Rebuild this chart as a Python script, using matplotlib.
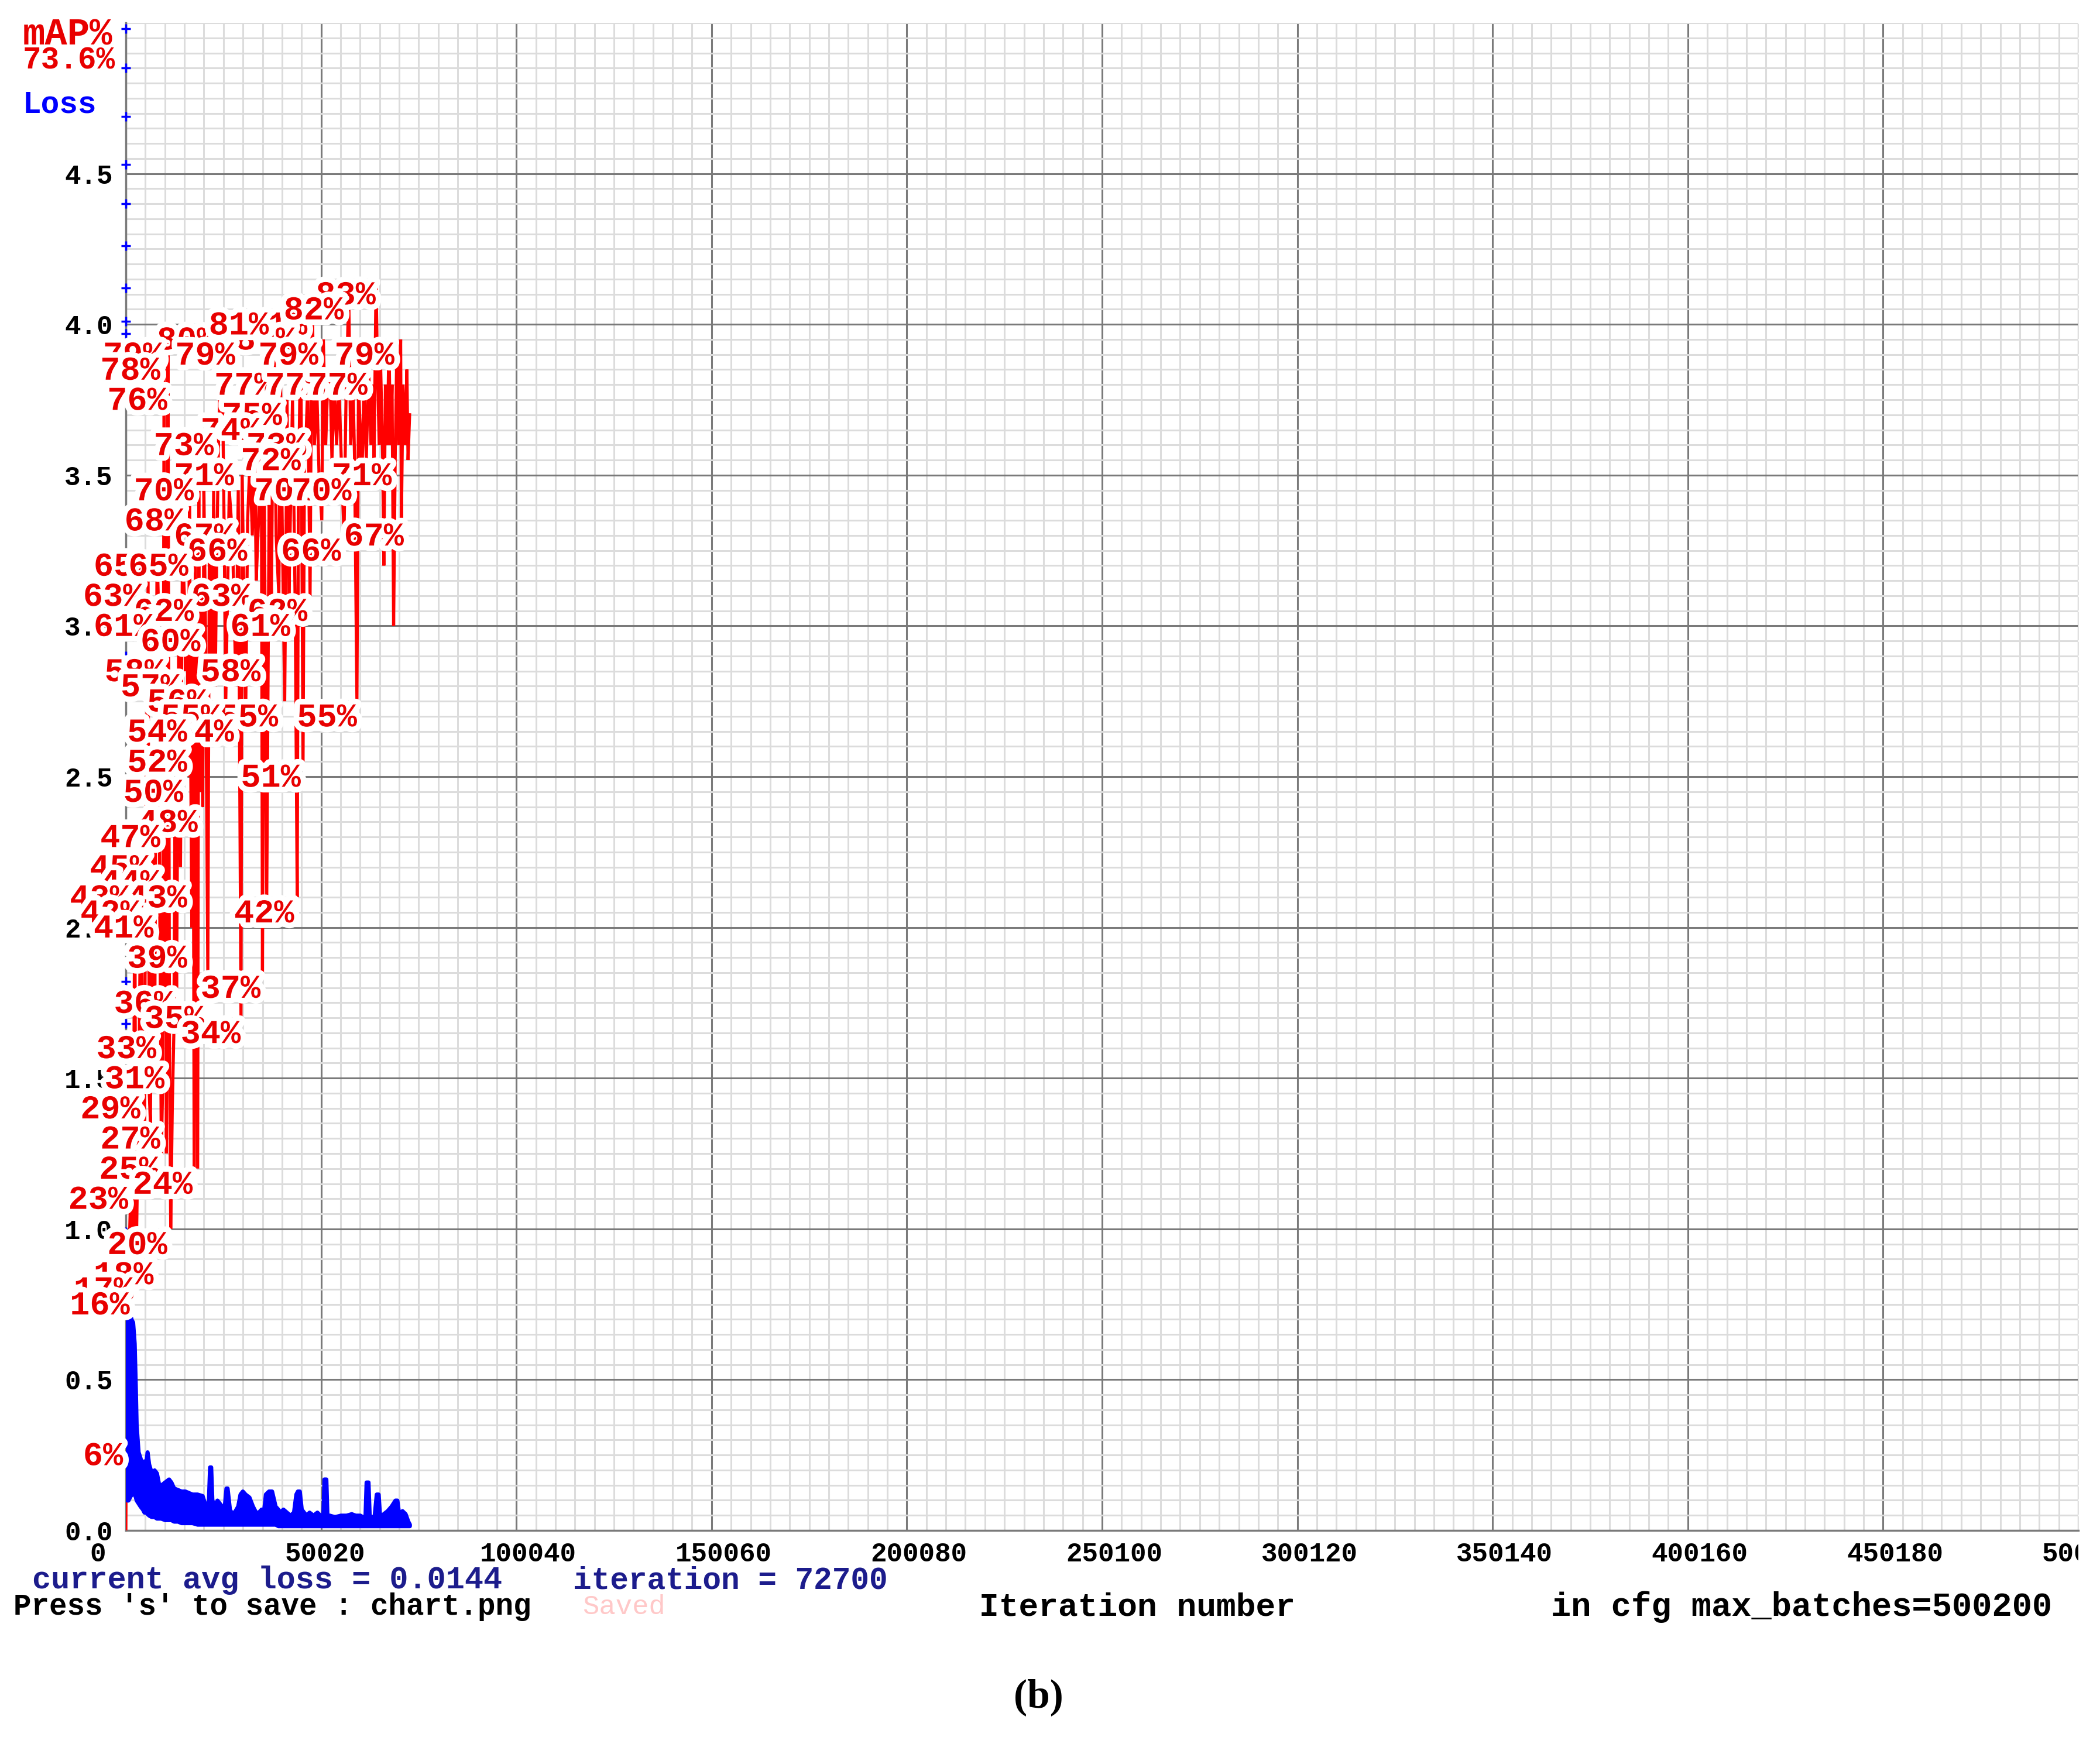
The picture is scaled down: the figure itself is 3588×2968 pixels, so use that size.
import matplotlib
matplotlib.use("Agg")
import matplotlib.pyplot as plt
import matplotlib.patheffects as pe
from matplotlib.ticker import MultipleLocator, FixedLocator
from matplotlib.transforms import ScaledTranslation, Bbox, TransformedBbox

max_batches = 500200
x_ticks = [0, 50020, 100040, 150060, 200080, 250100, 300120, 350140, 400160, 450180, 500200]
y_ticks = [0.0, 0.5, 1.0, 1.5, 2.0, 2.5, 3.0, 3.5, 4.0, 4.5]

# mAP evaluations (iteration, mAP %) -> red line
map_iter = [
    0, 200, 500, 1000, 1300, 1600, 1900, 2300, 2600, 3300,
    3800, 4500, 4800, 5000, 5700, 6000, 6300, 6800, 7400, 8000,
    8400, 8700, 9100, 9400, 9800, 10100, 10400, 10800, 11200, 11500,
    11900, 12300, 12600, 13000, 13600, 14000, 14500, 15000, 15300, 15700,
    16000, 16300, 16600, 16900, 17200, 17500, 17800, 18400, 18700, 18900,
    19300, 19700, 20000, 20400, 21000, 21400, 22100, 22500, 22900, 23300,
    23800, 24600, 25200, 25600, 26500, 27300, 28200, 28800, 29500, 29800,
    30700, 31200, 31800, 32400, 33000, 33400, 34000, 34700, 35000, 35500,
    36100, 36700, 37300, 37900, 38500, 39200, 39600, 40100, 40700, 41300,
    41800, 42200, 42700, 43400, 43900, 44200, 44800, 45400, 45800, 46100,
    46600, 47200, 47500, 47800, 48300, 48900, 49500, 50200, 50600, 51200,
    51700, 52300, 52800, 53400, 54000, 54600, 55200, 55900, 56400, 57100,
    57600, 58200, 58600, 59200, 59600, 60200, 60500, 61000, 61600, 62200,
    62800, 63200, 63600, 64100, 64400, 64900, 65300, 65800, 66100, 66500,
    67000, 67400, 67800, 68200, 68600, 69000, 69400, 69900, 70400, 70600,
    71000, 71600, 72000, 72300, 72700]
map_val = [
    0, 11, 6, 20, 23, 16, 23, 43, 17, 29,
    42, 29, 27, 42, 63, 29, 27, 45, 33, 65,
    61, 41, 25, 29, 77, 47, 25, 79, 31, 20,
    28, 33, 48, 36, 62, 44, 65, 62, 57, 62,
    50, 68, 52, 40, 61, 24, 65, 24, 70, 49,
    62, 48, 69, 60, 37, 66, 56, 69, 56, 65,
    73, 80, 66, 55, 69, 66, 56, 69, 34, 70,
    54, 67, 71, 66, 72, 63, 67, 74, 37, 68,
    42, 68, 62, 81, 66, 62, 77, 66, 55, 75,
    62, 68, 75, 61, 42, 68, 80, 51, 73, 72,
    76, 62, 75, 81, 72, 76, 70, 67, 79, 72,
    76, 77, 71, 76, 72, 76, 71, 66, 75, 82,
    72, 76, 71, 55, 76, 72, 70, 76, 71, 77,
    72, 76, 71, 83, 78, 72, 77, 71, 64, 76,
    72, 79, 72, 76, 60, 71, 78, 72, 79, 67,
    76, 72, 77, 71, 74]

# mAP text labels (iteration, mAP %)
label_iter = [
    65300, 47800, 57100, 24600, 44800, 37900, 10800, 29300, 50600, 70100,
    10100, 39300, 52300, 63200, 11900, 41300, 35800, 47500, 23800, 46100,
    29000, 69400, 49500, 59100, 18700, 16300, 29000, 72500, 32400, 56400,
    8400, 17300, 33400, 5700, 18700, 47800, 8400, 43400, 20400, 11200,
    35800, 15300, 22100, 40300, 60500, 25600, 29000, 17000, 17000, 46100,
    16000, 19700, 10100, 7400, 10100, 17000, 2300, 5000, 44400, 8400,
    17000, 35800, 13600, 21400, 30700, 9100, 11200, 5000, 10100, 9800,
    18400, 1900, 11900, 8400, 3300, 2300, 5700]
label_val = [
    83, 81, 82, 80, 80, 81, 79, 79, 79, 79,
    78, 77, 77, 77, 76, 75, 74, 73, 73, 72,
    71, 71, 70, 70, 70, 68, 67, 67, 66, 66,
    65, 65, 63, 63, 62, 62, 61, 61, 60, 58,
    58, 57, 56, 55, 55, 55, 54, 54, 52, 51,
    50, 48, 47, 45, 44, 43, 43, 42, 42, 41,
    39, 37, 36, 35, 34, 33, 31, 29, 27, 25,
    24, 23, 20, 18, 17, 16, 6]

# avg loss band (blue)
loss_iter = [
    300, 600, 1000, 1400, 1800, 2200, 2500, 2700, 3200, 3700,
    4300, 4700, 5100, 5500, 5900, 6600, 7300, 7900, 8500, 9000,
    10000, 11000, 11600, 12300, 13300, 14200, 15200, 16100, 17000, 18300,
    19600, 20700, 21200, 21500, 21800, 22100, 22500, 22900, 23400, 24000,
    25200, 25700, 26000, 26600, 27000, 27800, 28700, 29300, 29900, 30600,
    31600, 32500, 33300, 34000, 34700, 35300, 35800, 36600, 37400, 38300,
    39000, 39500, 40300, 41200, 42100, 43000, 43600, 44000, 44500, 45000,
    45600, 46200, 47000, 48000, 49000, 49800, 50500, 50800, 51300, 51600,
    52200, 53500, 55000, 56500, 57800, 58800, 60000, 61300, 61600, 62100,
    62400, 63600, 64200, 64700, 65100, 66000, 67000, 68000, 69000, 69500,
    70100, 70800, 71600, 72300, 72700]
loss_hi = [
    0.72, 0.73, 0.72, 0.70, 0.69, 0.62, 0.47, 0.35, 0.26, 0.24,
    0.21, 0.23, 0.22, 0.26, 0.22, 0.19, 0.20, 0.19, 0.15, 0.15,
    0.16, 0.17, 0.16, 0.14, 0.135, 0.13, 0.13, 0.125, 0.12, 0.12,
    0.115, 0.07, 0.10, 0.21, 0.21, 0.10, 0.09, 0.08, 0.10, 0.09,
    0.07, 0.14, 0.14, 0.07, 0.06, 0.06, 0.08, 0.12, 0.13, 0.12,
    0.11, 0.08, 0.06, 0.06, 0.07, 0.06, 0.12, 0.13, 0.13, 0.08,
    0.07, 0.06, 0.07, 0.06, 0.05, 0.06, 0.12, 0.13, 0.13, 0.07,
    0.06, 0.05, 0.06, 0.05, 0.06, 0.05, 0.04, 0.17, 0.17, 0.04,
    0.05, 0.045, 0.05, 0.05, 0.055, 0.05, 0.05, 0.04, 0.16, 0.16,
    0.05, 0.04, 0.12, 0.12, 0.04, 0.055, 0.065, 0.08, 0.10, 0.10,
    0.04, 0.065, 0.055, 0.03, 0.02]
loss_lo = [
    0.10, 0.10, 0.11, 0.12, 0.12, 0.12, 0.11, 0.10, 0.09, 0.08,
    0.07, 0.06, 0.06, 0.055, 0.05, 0.045, 0.045, 0.04, 0.04, 0.04,
    0.035, 0.035, 0.035, 0.03, 0.03, 0.025, 0.025, 0.025, 0.025, 0.02,
    0.02, 0.02, 0.02, 0.02, 0.02, 0.02, 0.02, 0.02, 0.02, 0.02,
    0.02, 0.02, 0.02, 0.02, 0.02, 0.02, 0.02, 0.02, 0.02, 0.02,
    0.02, 0.02, 0.02, 0.02, 0.02, 0.02, 0.02, 0.02, 0.02, 0.02,
    0.015, 0.015, 0.015, 0.015, 0.015, 0.015, 0.015, 0.015, 0.015, 0.015,
    0.015, 0.015, 0.015, 0.015, 0.015, 0.015, 0.015, 0.015, 0.015, 0.015,
    0.015, 0.015, 0.015, 0.015, 0.015, 0.015, 0.015, 0.015, 0.015, 0.015,
    0.015, 0.015, 0.015, 0.015, 0.015, 0.015, 0.015, 0.015, 0.015, 0.015,
    0.015, 0.015, 0.015, 0.015, 0.015]

# stray loss points sitting on the y axis
axis_loss = [4.98, 4.85, 4.69, 4.53, 4.40, 4.26, 4.12, 4.01, 3.97, 3.87,
             3.14, 2.90, 1.82, 1.68, 1.17, 1.08, 0.99]

current_map = "73.6%"
avg_loss = 0.0144
iteration = 72700

mono = "Liberation Mono"
red_txt = "#e80000"
W, H = 3588, 2968

fig = plt.figure(figsize=(35.88, 29.68), dpi=100)
ax = fig.add_axes([215 / W, 353 / H, 3336 / W, 2576 / H])
ax.set_xlim(0, max_batches)
ax.set_ylim(0, 5)

# grid like the darknet chart
ax.xaxis.set_major_locator(FixedLocator(x_ticks))
ax.xaxis.set_minor_locator(MultipleLocator(max_batches / 100))
ax.yaxis.set_major_locator(FixedLocator(y_ticks))
ax.yaxis.set_minor_locator(MultipleLocator(0.05))
ax.grid(which="minor", color="#dcdcdc", lw=2.2, zorder=0)
ax.grid(which="major", color="#7a7a7a", lw=2.2, zorder=0.5)
ax.set_axisbelow(True)
for s in ["top", "right"]:
    ax.spines[s].set_visible(False)
for s in ["left", "bottom"]:
    ax.spines[s].set_color("#7a7a7a")
    ax.spines[s].set_linewidth(2.5)

ax.set_xticklabels([str(t) for t in x_ticks], family=mono, fontsize=33,
                   weight="bold", ha="left")
ax.set_yticklabels([f"{t:.1f}" for t in y_ticks], family=mono, fontsize=33,
                   weight="bold")
ax.tick_params(which="both", length=0)
ax.tick_params(axis="x", pad=14)
ax.tick_params(axis="y", pad=16)
shift = ScaledTranslation(-62 / 100, 0, fig.dpi_scale_trans)
# the chart image ends at its right edge, cutting the last label
clip = TransformedBbox(Bbox([[0, 0], [3551 / W, 1]]), fig.transFigure)
for lab in ax.get_xticklabels():
    lab.set_transform(lab.get_transform() + shift)
    lab.set_clip_box(clip)
    lab.set_clip_on(True)

# mAP line
ax.plot(map_iter, [v / 20 for v in map_val], color="#ff0000", lw=3.8,
        zorder=3, solid_joinstyle="miter")

# loss
ax.fill_between(loss_iter, loss_lo, loss_hi, color="#0000ff", lw=5,
                edgecolor="#0000ff", zorder=4)
ax.plot([0] * len(axis_loss), axis_loss, "+", color="#0000ff", ms=11,
        mew=2.5, clip_on=False, zorder=6)

# mAP labels with white halo
halo = [pe.withStroke(linewidth=14, foreground="white")]
for it, v in zip(label_iter, label_val):
    ax.annotate(f"{v}%", xy=(it, v / 20), xytext=(-80, -31),
                textcoords="offset points", ha="left", va="baseline",
                family=mono, weight="bold", fontsize=41, color=red_txt,
                path_effects=halo, zorder=7, annotation_clip=False)


def ftext(x, y, s, **kw):
    fig.text(x / W, 1 - y / H, s, va="center", ha="left", **kw)


ftext(39, 59, "mAP%", family=mono, weight="bold", fontsize=46, color=red_txt)
ftext(39, 103, current_map, family=mono, weight="bold", fontsize=38, color=red_txt)
ftext(39, 178, "Loss", family=mono, weight="bold", fontsize=38, color="#0000ff")

ftext(55, 2700, f"current avg loss = {avg_loss}", family=mono, weight="bold",
      fontsize=38.5, color="#1c1c8c")
ftext(979, 2700, f"iteration = {iteration}", family=mono, weight="bold",
      fontsize=38, color="#1c1c8c")
ftext(23, 2746, "Press 's' to save : chart.png", family=mono, weight="bold",
      fontsize=36.5, color="black")
ftext(995, 2746, "Saved", family=mono, fontsize=34, color="#ffc8c8")
ftext(1673, 2746, "Iteration number", family=mono, weight="bold",
      fontsize=40.5, color="black")
ftext(2650, 2746, f"in cfg max_batches={max_batches}", family=mono,
      weight="bold", fontsize=41, color="black")

fig.text(1774 / W, 1 - 2900 / H, "(b)", ha="center", va="center",
         family="Liberation Serif", weight="bold", fontsize=50)

fig.savefig("out.png", dpi=100, facecolor="white")
